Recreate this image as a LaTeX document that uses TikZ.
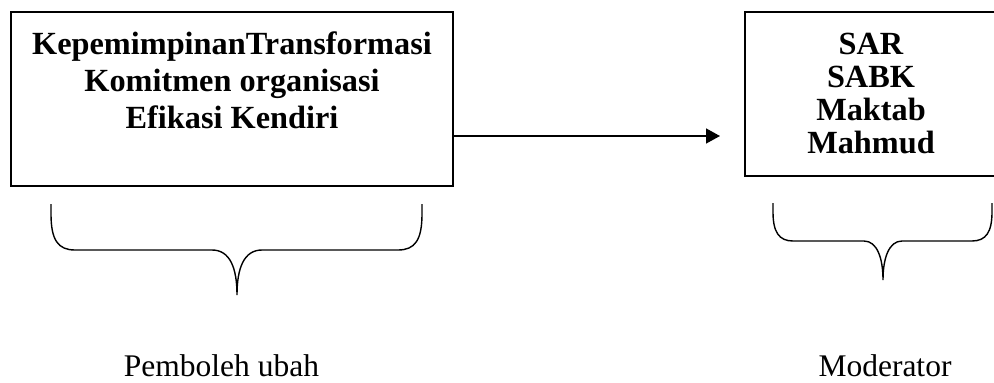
\documentclass[tikz,border=0pt]{standalone}
\usepackage{fontspec}
\setmainfont{Liberation Serif}
\usetikzlibrary{arrows.meta}
\begin{document}
\begin{tikzpicture}[x=1pt,y=-1pt,
  frame/.style={draw, line width=1.8pt, inner sep=0pt},
  boxtext/.style={inner sep=0pt, align=center, anchor=north,
    font=\fontsize{32.3}{37}\selectfont\bfseries},
  brace/.style={line width=1.4pt},
  label/.style={inner sep=0pt, anchor=base, font=\fontsize{31.5}{36}\selectfont},
  link/.style={line width=1.5pt, -{Triangle[length=14pt,width=15pt]}}]
\useasboundingbox (0,0) rectangle (994,383);

% boxes
\node[frame, minimum width=442pt, minimum height=174pt] (lbox) at (232,99) {};
\node[frame, minimum width=255pt, minimum height=164pt] (rbox) at (872.5,94) {};

\node[boxtext] (ltext) at (232,32)
  {KepemimpinanTransformasi\\Komitmen organisasi\\Efikasi Kendiri};
\node[boxtext, font=\fontsize{32.3}{33}\selectfont\bfseries] (rtext) at (871,33)
  {SAR\\SABK\\Maktab\\Mahmud};

% arrow
\coordinate (aend) at (720,136);
\draw[link] (lbox.east |- aend) -- (aend);

% braces
\draw[brace] (51,204) -- (51,214) .. controls (51,240) and (58,250) .. (75,250)
  -- (212,250) .. controls (230,250) and (237,268) .. (237,295)
  .. controls (237,268) and (244,250) .. (262,250)
  -- (398,250) .. controls (415,250) and (422,240) .. (422,214) -- (422,204);
\draw[brace] (773,203) -- (773,212) .. controls (773,232) and (779,241) .. (793,241)
  -- (864,241) .. controls (877,241) and (883,258) .. (883,280)
  .. controls (883,258) and (889,241) .. (902,241)
  -- (972,241) .. controls (986,241) and (992,232) .. (992,212) -- (992,203);

% labels
\node[label] (lab1) at (221.5,376) {Pemboleh ubah};
\node[label] (lab2) at (885,376) {Moderator};
\end{tikzpicture}
\end{document}
